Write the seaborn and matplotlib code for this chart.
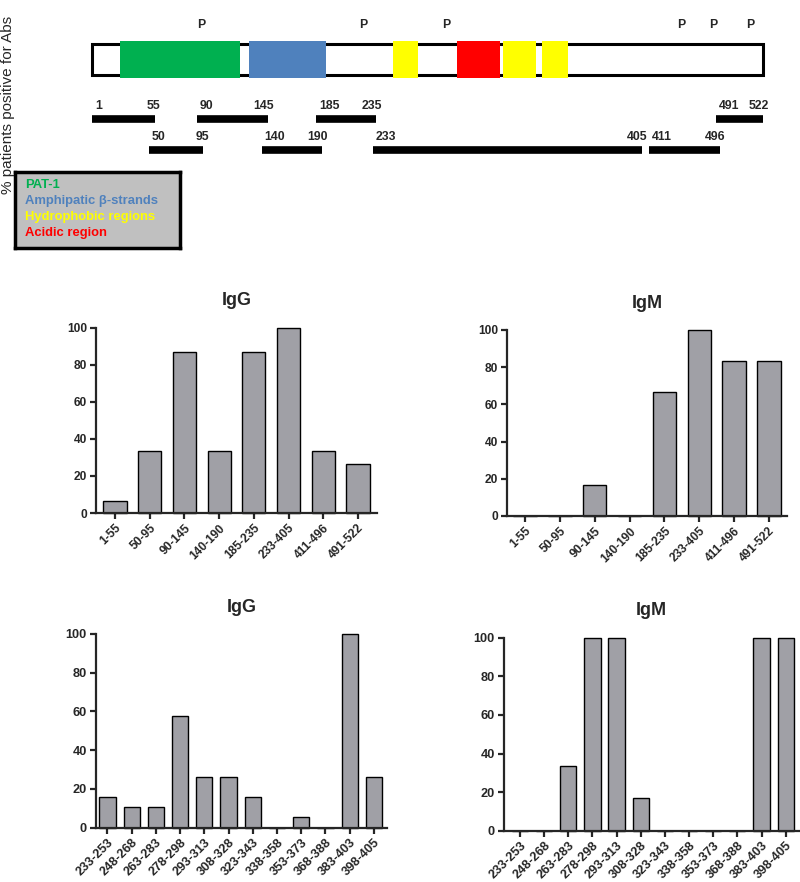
import numpy as np
import matplotlib
matplotlib.use("Agg")
import matplotlib.pyplot as plt
import seaborn as sns
import pandas as pd

sns.set_theme(style="ticks")
plt.rcParams['font.family'] = ['Liberation Sans', 'DejaVu Sans']
plt.rcParams['font.weight'] = 'bold'

# ============================
# DADOS
# ============================
# esquema da proteína (resíduos)
protein_len = 522
domain_names = ['PAT-1', 'Amphipatic β-strands', 'Hydrophobic regions', 'Acidic region']
domain_colors = ['#00b050', '#4f81bd', '#ffff00', '#ff0000']
domain_start = [25, 130, 246, 287, 316, 341]
domain_end = [123, 193, 262, 314, 337, 358]
domain_kind = [0, 1, 2, 3, 2, 2]
phospho_sites = [93, 225, 280, 449, 488, 514]

pept_start = [1, 50, 90, 140, 185, 233, 411, 491]
pept_end = [55, 95, 145, 190, 235, 405, 496, 522]
pept_row = [0, 1, 0, 1, 0, 1, 1, 0]

# painéis de barras
long_labels = ['1-55', '50-95', '90-145', '140-190', '185-235', '233-405', '411-496', '491-522']
long_igg = [6.7, 33.3, 86.7, 33.3, 86.7, 100, 33.3, 26.7]
long_igm = [0, 0, 16.7, 0, 66.7, 100, 83.3, 83.3]

short_labels = ['233-253', '248-268', '263-283', '278-298', '293-313', '308-328',
                '323-343', '338-358', '353-373', '368-388', '383-403', '398-405']
short_igg = [15.8, 10.5, 10.5, 57.9, 26.3, 26.3, 15.8, 0, 5.3, 0, 100, 26.3]
short_igm = [0, 0, 33.3, 100, 100, 16.7, 0, 0, 0, 0, 100, 100]

W, H = 800, 882
fig = plt.figure(figsize=(W / 100, H / 100), dpi=100)


def px_box(left, top, right, bottom):
    return [left / W, 1 - bottom / H, (right - left) / W, (bottom - top) / H]


# ============================
# ESQUEMA
# ============================
# escala esquemática (não linear) do desenho original
knot_res = [1, 55, 90, 145, 185, 233, 405, 411, 496, 522]
knot_pos = [0, 63, 105, 176, 224, 281, 550, 557, 628, 671]

ax0 = fig.add_axes(px_box(92, 0, 763, 170))
ax0.set_xscale('function', functions=(lambda x: np.interp(x, knot_res, knot_pos),
                                      lambda x: np.interp(x, knot_pos, knot_res)))
ax0.set_xlim(1, protein_len)
ax0.set_ylim(170, 0)
ax0.axis('off')

ax0.barh(59.5, protein_len - 1, left=1, height=31, facecolor='white',
         edgecolor='black', linewidth=2.2, clip_on=False)
for s, e, k in zip(domain_start, domain_end, domain_kind):
    ax0.barh(59.5, e - s, left=s, height=37, color=domain_colors[k], linewidth=0,
             clip_on=False, zorder=3)
for p in phospho_sites:
    ax0.text(p, 25, 'P', ha='center', va='center', fontsize=8.8, fontweight='bold')

row_bar_y = [119, 149.5]
row_lab_y = [106, 137]
for s, e, r in zip(pept_start, pept_end, pept_row):
    ax0.hlines(row_bar_y[r], s, e, color='black', linewidth=5.5, capstyle='butt')
    ax0.annotate(str(s), (s, row_lab_y[r]), xytext=(2, 0), textcoords='offset points',
                 ha='left', va='center', fontsize=8.8, fontweight='bold')
    ax0.annotate(str(e), (e, row_lab_y[r]), xytext=(4, 0), textcoords='offset points',
                 ha='right', va='center', fontsize=8.8, fontweight='bold')

# legenda
axl = fig.add_axes(px_box(15, 172, 180, 248))
axl.set_facecolor('#c0c0c0')
axl.set_xticks([])
axl.set_yticks([])
for sp in axl.spines.values():
    sp.set_linewidth(2.5)
    sp.set_color('black')
for i, (nome, cor) in enumerate(zip(domain_names, domain_colors)):
    axl.text(0.06, 0.83 - i * 0.21, nome, color=cor, fontsize=9.4, fontweight='bold',
             ha='left', va='center', transform=axl.transAxes)

fig.text(8 / W, 1 - 194 / H, '% patients positive for Abs', rotation=90,
         ha='center', va='bottom', fontsize=11, fontweight='normal')


# ============================
# BARRAS
# ============================
def painel(box, labels, valores, titulo, xlim, fs):
    ax = fig.add_axes(px_box(*box))
    df = pd.DataFrame({'Peptideo': labels, 'Positivos': valores})
    sns.barplot(data=df, x='Peptideo', y='Positivos', order=labels, color='#a0a0a6',
                edgecolor='black', linewidth=1, width=0.67, saturation=1, ax=ax)
    ax.set_ylim(0, 100)
    ax.set_xlim(*xlim)
    ax.set_yticks([0, 20, 40, 60, 80, 100])
    ax.set_xlabel('')
    ax.set_ylabel('')
    ax.set_title(titulo, fontsize=13, fontweight='bold', pad=16)
    sns.despine(ax=ax)
    for sp in ['left', 'bottom']:
        ax.spines[sp].set_linewidth(1.6)
    ax.tick_params(axis='both', width=1.6, length=4.5, labelsize=fs, pad=2)
    ax.set_xticks(range(len(labels)))
    ax.set_xticklabels(labels, rotation=45, ha='right', rotation_mode='anchor',
                       fontweight='bold')
    for lab in ax.get_yticklabels():
        lab.set_fontweight('bold')
    for b in ax.patches:
        b.set_clip_on(False)
    return ax


painel((96, 327.7, 377, 513), long_labels, long_igg, 'IgG', (-0.55, 7.55), 8.6)
painel((507, 330, 787, 516), long_labels, long_igm, 'IgM', (-0.52, 7.52), 8.6)
painel((96, 634, 387, 827.7), short_labels, short_igg, 'IgG', (-0.47, 11.54), 9.2)
painel((504, 637.7, 799, 830.7), short_labels, short_igm, 'IgM', (-0.66, 11.55), 9.2)

fig.savefig('out.png', dpi=100)
